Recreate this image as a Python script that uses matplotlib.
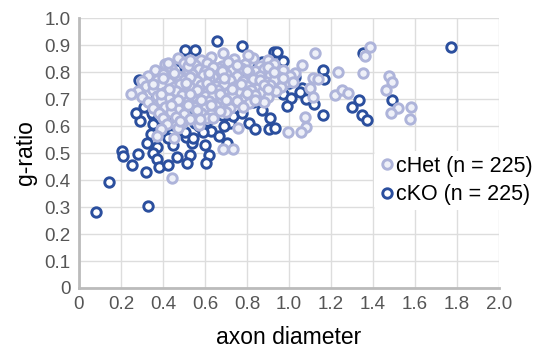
import numpy as np
import matplotlib.pyplot as plt

# ---------------- data ----------------
# cHet: dense cluster + scattered points (axon diameter, g-ratio)
het_pts = [
    # dense cluster, row by row
    (0.47, 0.852), (0.58, 0.846), (0.63, 0.855), (0.74, 0.848), (0.83, 0.851), (0.90, 0.843),
    (0.41, 0.828), (0.50, 0.835), (0.55, 0.826), (0.61, 0.832), (0.68, 0.824), (0.71, 0.836),
    (0.79, 0.829), (0.86, 0.822), (0.93, 0.831),
    (0.36, 0.808), (0.44, 0.815), (0.52, 0.806), (0.57, 0.812), (0.60, 0.803), (0.66, 0.814),
    (0.73, 0.807), (0.77, 0.816), (0.84, 0.804), (0.88, 0.811), (0.97, 0.806),
    (0.33, 0.787), (0.40, 0.792), (0.47, 0.785), (0.54, 0.794), (0.59, 0.788), (0.64, 0.783),
    (0.70, 0.791), (0.75, 0.786), (0.81, 0.795), (0.86, 0.784), (0.91, 0.790), (0.95, 0.782),
    (0.30, 0.768), (0.37, 0.772), (0.43, 0.764), (0.50, 0.771), (0.56, 0.766), (0.62, 0.774),
    (0.67, 0.763), (0.72, 0.770), (0.78, 0.765), (0.83, 0.773), (0.89, 0.762), (0.93, 0.769),
    (0.99, 0.764),
    (0.32, 0.748), (0.39, 0.752), (0.45, 0.745), (0.48, 0.756), (0.53, 0.743), (0.58, 0.751),
    (0.65, 0.747), (0.69, 0.754), (0.74, 0.744), (0.80, 0.750), (0.85, 0.742), (0.91, 0.753),
    (0.96, 0.746),
    (0.28, 0.728), (0.35, 0.733), (0.41, 0.725), (0.46, 0.731), (0.51, 0.724), (0.56, 0.735),
    (0.61, 0.727), (0.66, 0.732), (0.71, 0.723), (0.76, 0.729), (0.82, 0.734), (0.87, 0.726),
    (0.94, 0.730),
    (0.30, 0.708), (0.37, 0.712), (0.43, 0.705), (0.49, 0.713), (0.54, 0.704), (0.60, 0.710),
    (0.64, 0.715), (0.69, 0.703), (0.73, 0.711), (0.79, 0.706), (0.84, 0.714), (0.90, 0.707),
    (0.33, 0.688), (0.39, 0.693), (0.45, 0.685), (0.52, 0.691), (0.57, 0.684), (0.62, 0.694),
    (0.67, 0.686), (0.75, 0.692), (0.81, 0.687), (0.88, 0.690),
    (0.35, 0.668), (0.41, 0.672), (0.47, 0.664), (0.55, 0.671), (0.60, 0.665), (0.65, 0.673),
    (0.72, 0.667), (0.78, 0.670),
    (0.38, 0.648), (0.44, 0.652), (0.50, 0.645), (0.58, 0.650), (0.63, 0.644), (0.70, 0.651),
    (0.40, 0.628), (0.46, 0.633), (0.53, 0.625), (0.61, 0.630),
    (0.42, 0.608), (0.49, 0.612), (0.57, 0.604),
    (0.39, 0.588), (0.47, 0.592),
    (0.37, 0.562), (0.45, 0.556),
    # in-between points of the cluster
    (0.52, 0.822), (0.64, 0.820), (0.75, 0.826), (0.90, 0.818), (0.45, 0.797), (0.62, 0.797),
    (0.68, 0.802), (0.80, 0.808), (0.93, 0.800), (0.40, 0.776), (0.53, 0.780), (0.69, 0.777),
    (0.86, 0.770), (0.35, 0.756), (0.51, 0.758), (0.61, 0.761), (0.77, 0.757), (0.88, 0.752),
    (0.43, 0.738), (0.63, 0.740), (0.73, 0.736), (0.90, 0.737), (0.39, 0.719), (0.53, 0.717),
    (0.67, 0.720), (0.80, 0.721), (0.47, 0.698), (0.58, 0.697), (0.70, 0.695), (0.84, 0.697),
    (0.52, 0.678), (0.63, 0.679), (0.44, 0.677), (0.56, 0.658), (0.67, 0.657), (0.48, 0.620),
    # scattered points
    (0.248, 0.718), (0.424, 0.833), (0.529, 0.844), (0.686, 0.870), (0.805, 0.863),
    (0.443, 0.407), (0.686, 0.515), (0.733, 0.515), (0.757, 0.593), (0.638, 0.630),
    (0.576, 0.626),
    (1.386, 0.893), (1.362, 0.859), (1.124, 0.870), (1.233, 0.800), (1.352, 0.796),
    (1.062, 0.826), (1.029, 0.796), (1.005, 0.785), (0.971, 0.778), (1.114, 0.778),
    (1.138, 0.774), (1.019, 0.763), (1.100, 0.741), (1.114, 0.707), (1.219, 0.715),
    (1.252, 0.733), (1.281, 0.722), (1.076, 0.633), (1.081, 0.596), (1.057, 0.578),
    (0.995, 0.578), (1.476, 0.785), (1.490, 0.763), (1.462, 0.733), (1.519, 0.667),
    (1.486, 0.648), (1.581, 0.670), (1.576, 0.626),
]

# cKO
ko_pts = [
    # hidden under / mixed into the cluster
    (0.35, 0.64), (0.38, 0.63), (0.42, 0.62), (0.47, 0.64), (0.44, 0.66), (0.40, 0.68),
    (0.36, 0.70), (0.33, 0.72), (0.45, 0.71), (0.50, 0.66), (0.53, 0.63), (0.57, 0.60),
    (0.61, 0.62), (0.64, 0.66), (0.68, 0.64), (0.72, 0.61), (0.75, 0.66), (0.79, 0.70),
    (0.83, 0.69), (0.87, 0.66), (0.91, 0.63), (0.86, 0.71), (0.93, 0.74), (0.97, 0.72),
    (0.89, 0.78), (0.85, 0.82), (0.80, 0.79), (0.74, 0.78), (0.70, 0.73), (0.65, 0.80),
    (0.60, 0.77), (0.55, 0.74), (0.50, 0.78), (0.46, 0.81), (0.42, 0.76), (0.38, 0.80),
    (0.31, 0.67), (0.29, 0.62), (0.27, 0.65), (0.55, 0.69), (0.59, 0.72), (0.66, 0.70),
    (0.71, 0.68), (0.77, 0.74), (0.82, 0.75), (0.88, 0.73), (0.95, 0.78), (1.00, 0.76),
    (0.92, 0.82), (0.62, 0.84), (0.56, 0.82), (0.97, 0.84), (1.03, 0.78), (1.06, 0.74),
    (1.08, 0.70), (1.12, 0.68), (0.48, 0.59), (0.44, 0.57), (0.51, 0.56), (0.63, 0.58),
    (0.69, 0.60),
    # lower-left tail
    (0.080, 0.280), (0.142, 0.393), (0.330, 0.305),
    (0.205, 0.507), (0.210, 0.490), (0.250, 0.456), (0.280, 0.496), (0.320, 0.430),
    (0.324, 0.537), (0.343, 0.570), (0.352, 0.607), (0.348, 0.648), (0.380, 0.633),
    (0.371, 0.522), (0.352, 0.500), (0.371, 0.478), (0.380, 0.448), (0.424, 0.456),
    (0.467, 0.485), (0.424, 0.556), (0.448, 0.530), (0.414, 0.630),
    (0.733, 0.637), (0.776, 0.648), (0.810, 0.611), (0.838, 0.589), (0.905, 0.589),
    (0.667, 0.563), (0.705, 0.537), (0.600, 0.530), (0.620, 0.493), (0.605, 0.463),
    (0.529, 0.493), (0.514, 0.463), (0.538, 0.537), (0.543, 0.556), (0.505, 0.578),
    (0.590, 0.578), (0.552, 0.611),
    # top and right
    (0.286, 0.770), (0.390, 0.778), (0.505, 0.881), (0.552, 0.881), (0.657, 0.915),
    (0.776, 0.896), (0.929, 0.874), (0.871, 0.837),
    (0.943, 0.874), (1.352, 0.870), (1.160, 0.809), (1.167, 0.774), (1.052, 0.726),
    (1.010, 0.704), (0.990, 0.674), (1.300, 0.670), (1.333, 0.696), (1.348, 0.641),
    (1.371, 0.622), (1.162, 0.641), (0.933, 0.593), (1.490, 0.696), (1.771, 0.893),
]

het_x, het_y = np.array(het_pts).T
ko_x, ko_y = np.array(ko_pts).T

x_ticks = [0, 0.2, 0.4, 0.6, 0.8, 1.0, 1.2, 1.4, 1.6, 1.8, 2.0]
x_labels = ['0', '0.2', '0.4', '0.6', '0.8', '1.0', '1.2', '1.4', '1.6', '1.8', '2.0']
y_ticks = [0, 0.1, 0.2, 0.3, 0.4, 0.5, 0.6, 0.7, 0.8, 0.9, 1.0]
y_labels = ['0', '0.1', '0.2', '0.3', '0.4', '0.5', '0.6', '0.7', '0.8', '0.9', '1.0']

# ---------------- plot ----------------
plt.rcParams['font.family'] = ['Liberation Sans', 'DejaVu Sans']

fig = plt.figure(figsize=(5.5, 3.54), dpi=100)
ax = fig.add_axes([79 / 550, 1 - 288 / 354, 420 / 550, 270 / 354])

ax.plot(ko_x, ko_y, 'o', ls='none', ms=6.8, mew=2.1, mfc='white', mec='#2b4f9e',
        label='cKO (n = 225)', zorder=3)
ax.plot(het_x, het_y, 'o', ls='none', ms=6.8, mew=2.1, mfc='#eef0f8', mec='#aeb4da',
        label='cHet (n = 225)', zorder=4)

ax.set_xlim(0, 2.0)
ax.set_ylim(0, 1.0)
ax.set_xticks(x_ticks, x_labels)
ax.set_yticks(y_ticks, y_labels)
ax.tick_params(length=0, labelsize=13.5, colors='#555555', pad=6)
ax.grid(True, color='#dddddd', lw=1)
ax.set_axisbelow(True)
for s in ['top', 'right']:
    ax.spines[s].set_visible(False)
for s in ['left', 'bottom']:
    ax.spines[s].set_color('#bbbbbb')
    ax.spines[s].set_linewidth(2)

ax.set_xlabel('axon diameter', fontsize=16.5, labelpad=9)
ax.set_ylabel('g-ratio', fontsize=16.5, labelpad=5)

h, l = ax.get_legend_handles_labels()
leg = fig.legend(h[::-1], l[::-1], loc='center left', bbox_to_anchor=(0.66, 0.49),
                 fontsize=15.5, frameon=True, framealpha=1, edgecolor='none',
                 handletextpad=0.05, handlelength=0.8, labelspacing=0.35, borderpad=0.2)

fig.savefig('out.png', dpi=100)
